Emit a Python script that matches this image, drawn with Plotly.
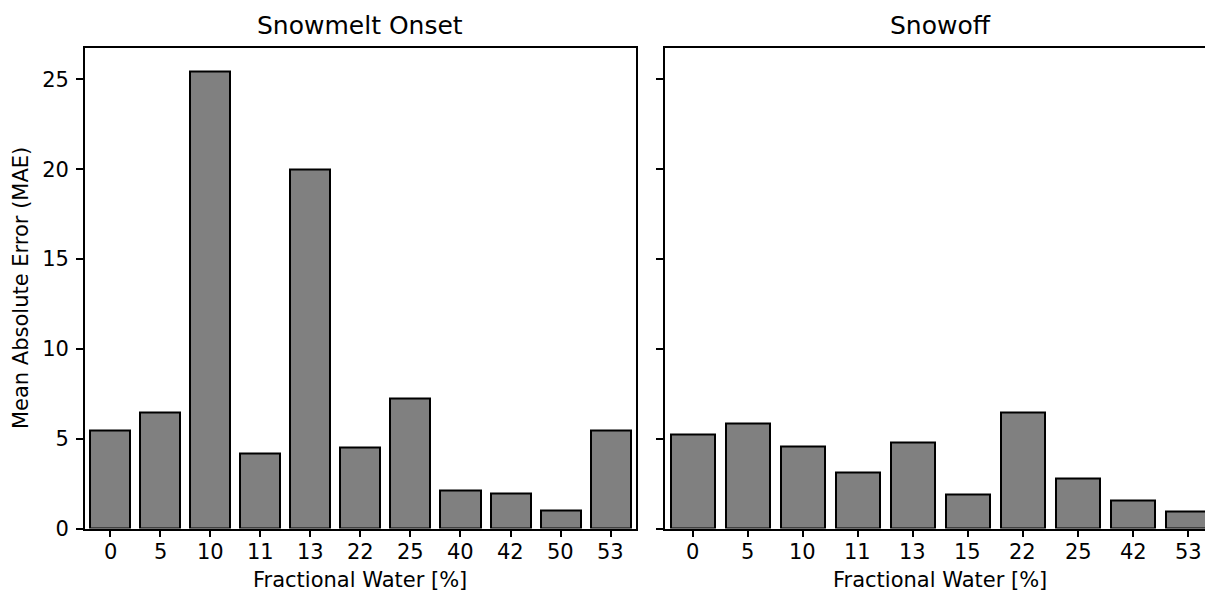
import plotly.graph_objects as go

# ---- data ----
left_categories = ["0", "5", "10", "11", "13", "22", "25", "40", "42", "50", "53"]
left_mae = [5.48, 6.43, 25.42, 4.18, 20.0, 4.52, 7.21, 2.10, 1.97, 1.03, 5.48]
right_categories = ["0", "5", "10", "11", "13", "15", "22", "25", "42", "53"]
right_mae = [5.22, 5.82, 4.59, 3.12, 4.78, 1.88, 6.43, 2.77, 1.54, 0.93]
y_ticks = [0, 5, 10, 15, 20, 25]

W = 1205
K = 606 / 593          # vertical compensation for the capture
H = 606
FONT = "DejaVu Sans"

# pixel geometry (target picture pixels)
L_left, L_right = 85, 635.7
R_left = 665
R_unit = 550.7 / 10.0
ax_top, ax_bot = 47.5, 527.7

def px(x):
    return x / W

def py(y):
    return 1 - (y * K) / H

fig = go.Figure()
bar_style = dict(marker=dict(color="#808080", line=dict(color="black", width=2)),
                 width=0.8, showlegend=False, hoverinfo="x+y")
fig.add_trace(go.Bar(x=left_categories, y=left_mae, xaxis="x", yaxis="y", **bar_style))
fig.add_trace(go.Bar(x=right_categories, y=right_mae, xaxis="x2", yaxis="y2", **bar_style))

tickfont = dict(family=FONT, size=21, color="black")
common_x = dict(type="category", showgrid=False, zeroline=False, showline=True,
                linecolor="black", linewidth=1.7, mirror=True, ticks="outside",
                ticklen=7, tickwidth=1.7, tickcolor="black", showticklabels=False,
                fixedrange=True)
common_y = dict(range=[0, 26.77], tickvals=y_ticks, showgrid=False, zeroline=False,
                showline=True, linecolor="black", linewidth=1.7, ticks="outside",
                ticklen=7, tickwidth=1.7, tickcolor="black", tickfont=tickfont,
                ticklabelstandoff=3, fixedrange=True)

right_end = -0.5 + (W - R_left) / R_unit

fig.update_layout(
    width=W, height=H, autosize=False,
    margin=dict(l=0, r=0, t=0, b=0, pad=0),
    paper_bgcolor="white", plot_bgcolor="white",
    bargap=0,
    xaxis=dict(domain=[px(L_left), px(L_right)], range=[-0.5, len(left_categories) - 0.5],
               anchor="y", categoryorder="array", categoryarray=left_categories, **common_x),
    yaxis=dict(domain=[py(ax_bot), py(ax_top)], anchor="x", mirror=True, **common_y),
    xaxis2=dict(domain=[px(R_left), 1.0], range=[-0.5, right_end],
                anchor="y2", categoryorder="array", categoryarray=right_categories, **common_x),
    yaxis2=dict(domain=[py(ax_bot), py(ax_top)], anchor="x2", mirror=False,
                showticklabels=False, **common_y),
    font=dict(family=FONT, color="black"),
)

ann = []
# x tick labels (category index on each categorical axis)
for xref, cats in (("x", left_categories), ("x2", right_categories)):
    for i, c in enumerate(cats):
        ann.append(dict(text=c, x=i, y=py(551), xref=xref, yref="paper",
                        xanchor="center", yanchor="middle", showarrow=False,
                        font=tickfont))
ann.append(dict(text="Snowmelt Onset", x=px((L_left + L_right) / 2), y=py(25.8),
                xref="paper", yref="paper", xanchor="center", yanchor="middle",
                showarrow=False, font=dict(family=FONT, size=25, color="black")))
ann.append(dict(text="Snowoff", x=px(R_left + 550.7 / 2), y=py(25.8),
                xref="paper", yref="paper", xanchor="center", yanchor="middle",
                showarrow=False, font=dict(family=FONT, size=25, color="black")))
for cx in [(L_left + L_right) / 2, R_left + 550.7 / 2]:
    ann.append(dict(text="Fractional Water [%]", x=px(cx), y=py(579),
                    xref="paper", yref="paper", xanchor="center", yanchor="middle",
                    showarrow=False, font=dict(family=FONT, size=21, color="black")))
ann.append(dict(text="Mean Absolute Error (MAE)", x=px(21), y=py((ax_top + ax_bot) / 2),
                xref="paper", yref="paper", xanchor="center", yanchor="middle",
                textangle=-90, showarrow=False,
                font=dict(family=FONT, size=21, color="black")))
fig.update_layout(annotations=ann)

fig.write_html("out.html")
